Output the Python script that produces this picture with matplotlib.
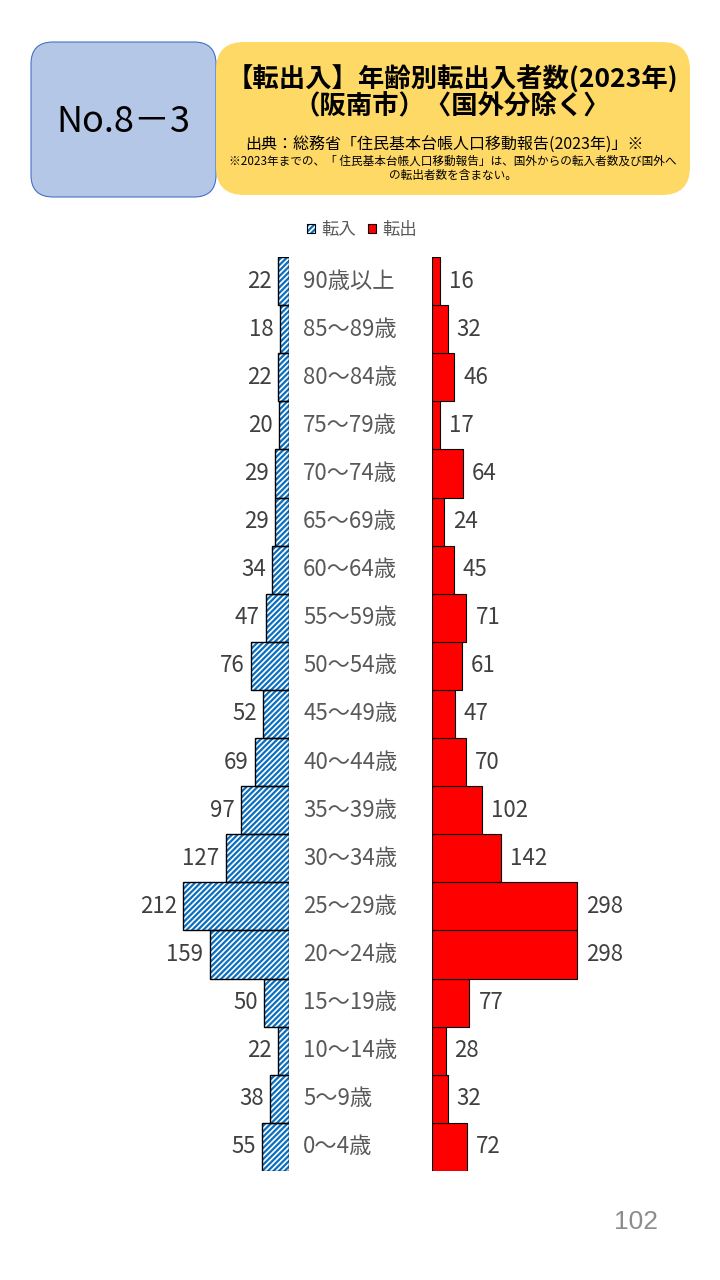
import matplotlib
matplotlib.use("Agg")
import matplotlib.pyplot as plt
from matplotlib.patches import FancyBboxPatch, Patch
from matplotlib.transforms import blended_transform_factory

plt.rcParams['font.family'] = ['Noto Sans CJK JP', 'DejaVu Sans']
plt.rcParams['hatch.linewidth'] = 1.6

# データ（下から 0～4歳 → 上へ 90歳以上）
ages = ['0～4歳', '5～9歳', '10～14歳', '15～19歳', '20～24歳', '25～29歳',
        '30～34歳', '35～39歳', '40～44歳', '45～49歳', '50～54歳', '55～59歳',
        '60～64歳', '65～69歳', '70～74歳', '75～79歳', '80～84歳', '85～89歳',
        '90歳以上']
tennyu = [55, 38, 22, 50, 159, 212, 127, 97, 69, 52, 76, 47, 34, 29, 29, 20, 22, 18, 22]
tenshutsu = [72, 32, 28, 77, 298, 298, 142, 102, 70, 47, 61, 71, 45, 24, 64, 17, 46, 32, 16]

W, H = 720, 1280
fig = plt.figure(figsize=(W / 100, H / 100), dpi=100)

# 背景（ピクセル座標）
bg = fig.add_axes([0, 0, 1, 1])
bg.set_xlim(0, W)
bg.set_ylim(H, 0)
bg.axis('off')

bg.add_patch(FancyBboxPatch((31, 42), 185, 155, boxstyle="round,pad=0,rounding_size=22",
                            facecolor='#B4C7E7', edgecolor='#4472C4', linewidth=0.8))
bg.add_patch(FancyBboxPatch((216, 42), 474, 153, boxstyle="round,pad=0,rounding_size=28",
                            facecolor='#FFD966', edgecolor='none'))
bg.text(123, 122, 'No.8－3', ha='center', va='center', fontsize=26, color='black')
bg.text(452, 80, '【転出入】年齢別転出入者数(2023年)', ha='center', va='center',
        fontsize=19, fontweight='bold', color='black')
bg.text(452, 107, '（阪南市）〈国外分除く〉', ha='center', va='center',
        fontsize=19, fontweight='bold', color='black')
bg.text(444, 145, '出典：総務省「住民基本台帳人口移動報告(2023年)」※', ha='center', va='center',
        fontsize=11.5, color='black')
bg.text(453, 161, '※2023年までの、「 住民基本台帳人口移動報告」は、国外からの転入者数及び国外へ',
        ha='center', va='center', fontsize=8.4, color='black')
bg.text(453, 175, 'の転出者数を含まない。', ha='center', va='center', fontsize=8.4, color='black')
bg.text(636, 1222, '102', ha='center', va='center', fontsize=19, color='#8C8C8C',
        family='Liberation Sans')

# グラフ
top_px, bot_px = 257, 1171
ax_b = 1 - bot_px / H
ax_h = (bot_px - top_px) / H
y = list(range(len(ages)))

l_left, l_zero = 100, 289     # 転入（左）
r_zero, r_right = 432, 620    # 転出（右）
l_scale, r_scale = 2.0, 2.06  # 人/px

ax_l = fig.add_axes([l_left / W, ax_b, (l_zero - l_left) / W, ax_h])
ax_r = fig.add_axes([r_zero / W, ax_b, (r_right - r_zero) / W, ax_h])

ax_l.barh(y, tennyu, height=1.0, facecolor='white', edgecolor='#0A6FBF',
          hatch='//////', linewidth=0)
ax_l.barh(y, tennyu, height=1.0, fill=False, edgecolor='black', linewidth=1.0)
ax_l.set_xlim((l_zero - l_left) * l_scale, 0)

ax_r.barh(y, tenshutsu, height=1.0, color='#FF0000', edgecolor='black', linewidth=0.8)
ax_r.set_xlim(0, (r_right - r_zero) * r_scale)

for ax in (ax_l, ax_r):
    ax.set_ylim(-0.5, len(ages) - 0.5)
    ax.axis('off')

for i, v in enumerate(tennyu):
    ax_l.text(v + 6 * l_scale, i, str(v), ha='right', va='center', fontsize=16, color='#404040')
for i, v in enumerate(tenshutsu):
    ax_r.text(v + 9 * r_scale, i, str(v), ha='left', va='center', fontsize=16, color='#404040')

tr = blended_transform_factory(fig.transFigure, ax_r.transData)
for i, a in enumerate(ages):
    ax_r.text(303 / W, i, a, transform=tr, ha='left', va='center', fontsize=16,
              color='#595959', clip_on=False)

# 凡例
h_in = (Patch(facecolor='white', edgecolor='#0A6FBF', hatch='//////', linewidth=0),
        Patch(fill=False, edgecolor='black', linewidth=0.8))
h_out = Patch(facecolor='#FF0000', edgecolor='black', linewidth=0.8)
fig.legend([h_in, h_out], ['転入', '転出'], loc='center', bbox_to_anchor=(362 / W, 1 - 230 / H),
           ncol=2, frameon=False, fontsize=12.5, handlelength=0.45, handleheight=0.45,
           handletextpad=0.35, columnspacing=0.7, labelcolor='#595959')

fig.savefig('out.png', dpi=100)
